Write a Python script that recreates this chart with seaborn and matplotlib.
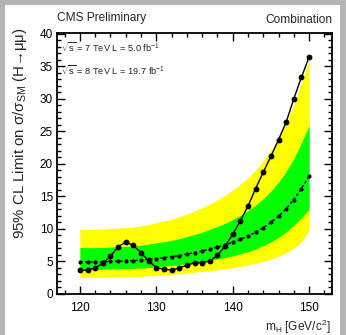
import numpy as np
import pandas as pd
import matplotlib
matplotlib.use("Agg")
import matplotlib.pyplot as plt
import seaborn as sns
from matplotlib.ticker import MultipleLocator
from matplotlib.patches import Rectangle

mass = [120, 121, 122, 123, 124, 125, 126, 127, 128, 129, 130,
        131, 132, 133, 134, 135, 136, 137, 138, 139, 140,
        141, 142, 143, 144, 145, 146, 147, 148, 149, 150]
observed = [3.63, 3.65, 4.04, 4.7, 5.8, 7.25, 7.97, 7.46, 6.33, 5.1, 4.04,
            3.83, 3.68, 3.99, 4.44, 4.8, 4.8, 5.06, 5.93, 7.36, 9.15,
            11.24, 13.5, 16.2, 18.7, 21.15, 23.7, 26.4, 30.0, 33.3, 36.4]
expected = [4.95, 4.93, 4.93, 4.95, 5.0, 5.03, 5.07, 5.12, 5.2, 5.32, 5.45,
            5.58, 5.72, 5.9, 6.12, 6.35, 6.6, 6.9, 7.2, 7.55, 7.95,
            8.4, 8.9, 9.5, 10.2, 11.0, 11.95, 13.1, 14.5, 16.2, 18.1]
band2_lo = [2.55, 2.55, 2.56, 2.57, 2.6, 2.62, 2.64, 2.67, 2.71, 2.78, 2.85,
            2.92, 3.0, 3.1, 3.22, 3.35, 3.47, 3.6, 3.73, 3.88, 4.05,
            4.25, 4.47, 4.72, 5.0, 5.35, 5.8, 6.35, 7.05, 8.0, 9.8]
band1_lo = [3.83, 3.81, 3.8, 3.81, 3.85, 3.87, 3.9, 3.94, 4.0, 4.09, 4.19,
            4.28, 4.38, 4.51, 4.67, 4.84, 5.0, 5.18, 5.37, 5.6, 5.85,
            6.15, 6.5, 6.92, 7.42, 8.0, 8.7, 9.55, 10.55, 11.7, 13.0]
band1_hi = [7.15, 7.12, 7.12, 7.15, 7.22, 7.26, 7.32, 7.39, 7.5, 7.67, 7.86,
            8.04, 8.24, 8.5, 8.81, 9.14, 9.5, 9.93, 10.36, 10.86, 11.43,
            12.08, 12.8, 13.66, 14.66, 15.8, 17.17, 18.82, 20.82, 23.25, 25.9]
band2_hi = [9.95, 9.92, 9.93, 9.98, 10.06, 10.12, 10.2, 10.3, 10.45, 10.68, 10.94,
            11.2, 11.48, 11.84, 12.28, 12.74, 13.24, 13.84, 14.44, 15.14, 15.94,
            16.84, 17.84, 19.04, 20.44, 22.04, 23.94, 26.24, 29.04, 32.44, 36.0]

x_ticks = [120, 130, 140, 150]
y_ticks = [0, 5, 10, 15, 20, 25, 30, 35, 40]

df = pd.DataFrame({"mass": mass, "observed": observed, "expected": expected,
                   "b2lo": band2_lo, "b1lo": band1_lo, "b1hi": band1_hi, "b2hi": band2_hi})

sns.set_style("ticks")
plt.rcParams['font.family'] = ['Liberation Sans', 'DejaVu Sans']
plt.rcParams['mathtext.fontset'] = 'custom'
plt.rcParams['mathtext.rm'] = 'Liberation Sans'
plt.rcParams['mathtext.it'] = 'Liberation Sans'
plt.rcParams['mathtext.bf'] = 'Liberation Sans:bold'

fig = plt.figure(figsize=(3.46, 3.35), dpi=100)
fig.patch.set_facecolor('#b4b4b4')
fig.patches.append(Rectangle((5/346, 0), 335/346, 330/335, transform=fig.transFigure,
                             facecolor='white', edgecolor='none', zorder=-5))

ax = fig.add_axes([57/346, 41/335, 275/346, 261/335])
ax.set_zorder(2)
ax.set_facecolor('white')

ax.fill_between(df["mass"], df["b2lo"], df["b2hi"], color='#ffff00', linewidth=0, zorder=1)
ax.fill_between(df["mass"], df["b1lo"], df["b1hi"], color='#00ff00', linewidth=0, zorder=2)

sns.lineplot(data=df, x="mass", y="expected", ax=ax, color='black', linewidth=1.0,
             marker='o', markersize=3.0, markeredgewidth=0, zorder=3)
ax.lines[-1].set_dashes([2.0, 1.6])
sns.lineplot(data=df, x="mass", y="observed", ax=ax, color='black', linewidth=1.0,
             marker='o', markersize=4.2, markeredgewidth=0, zorder=4)

ax.set_xlim(117, 153)
ax.set_ylim(0, 40.1)
ax.set_xticks(x_ticks)
ax.set_yticks(y_ticks)
ax.xaxis.set_minor_locator(MultipleLocator(2))
ax.yaxis.set_minor_locator(MultipleLocator(1))
ax.tick_params(which='both', direction='in', top=True, right=True, width=1.0, labelsize=8.5, colors='black')
ax.tick_params(which='major', length=5.8)
ax.tick_params(which='minor', length=3.0)
ax.tick_params(axis='x', pad=6)
ax.tick_params(axis='y', pad=3)
for s in ax.spines.values():
    s.set_linewidth(1.3)
    s.set_color('black')
ax.set_xlabel("")
ax.set_ylabel("")

fig.text(20/346, 1 - 27/335, r"95% CL Limit on σ/σ$_{\mathrm{SM}}$ (H→μμ)", rotation=90,
         ha='center', va='top', fontsize=10.8)
fig.text(331/346, 1 - 327/335, r"m$_{\mathrm{H}}$ [GeV/c$^{2}$]", ha='right', va='center', fontsize=8.6)
fig.text(57/346, 1 - 18/335, "CMS Preliminary", ha='left', va='center', fontsize=8.6)
fig.text(332/346, 1 - 20/335, "Combination", ha='right', va='center', fontsize=8.6)

ax.text(0.016, 0.946, r"$\sqrt{s}$ = 7 TeV L = 5.0 fb$^{-1}$", transform=ax.transAxes,
        ha='left', va='center', fontsize=6.7)
ax.text(0.016, 0.858, r"$\sqrt{s}$ = 8 TeV L = 19.7 fb$^{-1}$", transform=ax.transAxes,
        ha='left', va='center', fontsize=6.7)

fig.savefig("out.png", dpi=100, facecolor=fig.get_facecolor())
